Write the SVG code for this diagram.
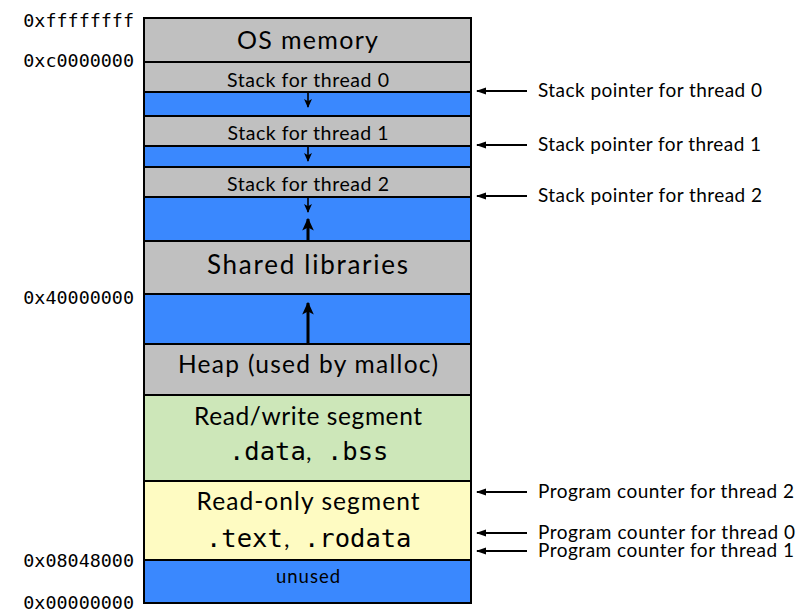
<svg xmlns="http://www.w3.org/2000/svg" width="803" height="613" viewBox="0 0 803 613">
<style>
.seg{stroke:#000;stroke-width:2}
.gray{fill:#c0c0c0}
.blue{fill:#3a88fe}
.green{fill:#cde7b9}
.yellow{fill:#fefbc2}
.t{font-family:Lato,"Open Sans","Liberation Sans",sans-serif;fill:#000;text-anchor:middle}
.s{font-family:Lato,"Open Sans","Liberation Sans",sans-serif;fill:#000}
.m{font-family:"DejaVu Sans Mono","Liberation Mono",monospace;font-size:25.5px;fill:#000}
.addr{font-family:"DejaVu Sans Mono","Liberation Mono",monospace;font-size:18.4px;text-anchor:end;fill:#000}
.lbl{font-family:Lato,"Open Sans","Liberation Sans",sans-serif;font-size:19px;fill:#000}
.ptr{stroke:#000;stroke-width:2;fill:none}
.grow{stroke:#000;fill:none}
</style>
<defs>
<marker id="ah" viewBox="0 0 10 10" refX="9" refY="5" markerWidth="5" markerHeight="5" markerUnits="strokeWidth" orient="auto">
<path d="M0,1.5 L10,5 L0,8.5 Z" fill="#000"/>
</marker>
<marker id="ahs" viewBox="0 0 10 10" refX="9" refY="5" markerWidth="5.5" markerHeight="5.5" markerUnits="strokeWidth" orient="auto">
<path d="M0,0.5 L10,5 L0,9.5 L2.5,5 Z" fill="#000"/>
</marker>
<marker id="ahb" viewBox="0 0 10 10" refX="9" refY="5" markerWidth="4.3" markerHeight="4.3" markerUnits="strokeWidth" orient="auto">
<path d="M0,0.5 L10,5 L0,9.5 L2.5,5 Z" fill="#000"/>
</marker>
</defs>

<g id="addresses">
<text class="addr" x="134" y="27">0xffffffff</text>
<text class="addr" x="134" y="67">0xc0000000</text>
<text class="addr" x="134" y="304">0x40000000</text>
<text class="addr" x="134" y="567">0x08048000</text>
<text class="addr" x="134" y="609">0x00000000</text>
</g>

<g id="os-memory"><rect class="seg gray" x="144" y="18" width="327" height="44"/><text class="t" x="307.5" y="49" font-size="25" textLength="141">OS memory</text></g>
<g id="stack0"><rect class="seg gray" x="144" y="62" width="327" height="30"/><text class="t" x="308" y="87" font-size="19.5" textLength="162">Stack for thread 0</text></g>
<g id="free0"><rect class="seg blue" x="144" y="92" width="327" height="24"/></g>
<g id="stack1"><rect class="seg gray" x="144" y="116" width="327" height="30"/><text class="t" x="308" y="140" font-size="19.5" textLength="161">Stack for thread 1</text></g>
<g id="free1"><rect class="seg blue" x="144" y="146" width="327" height="21"/></g>
<g id="stack2"><rect class="seg gray" x="144" y="167" width="327" height="30"/><text class="t" x="308" y="191" font-size="19.5" textLength="162">Stack for thread 2</text></g>
<g id="free2"><rect class="seg blue" x="144" y="197" width="327" height="44"/></g>
<g id="shared-libraries"><rect class="seg gray" x="144" y="241" width="327" height="53"/><text class="t" x="307.5" y="274" font-size="26" textLength="201">Shared libraries</text></g>
<g id="free3"><rect class="seg blue" x="144" y="294" width="327" height="50"/></g>
<g id="heap"><rect class="seg gray" x="144" y="344" width="327" height="51"/><text class="t" x="308" y="373" font-size="24.5" textLength="260">Heap (used by malloc)</text></g>
<g id="rw-segment"><rect class="seg green" x="144" y="395" width="327" height="86"/><text class="t" x="308" y="425" font-size="24.5" textLength="228">Read/write segment</text><text class="m" x="229" y="460">.data</text><text class="s" x="306" y="460" font-size="24">,</text><text class="m" x="327" y="460">.bss</text></g>
<g id="ro-segment"><rect class="seg yellow" x="144" y="481" width="327" height="79"/><text class="t" x="308" y="510" font-size="24.5" textLength="223">Read-only segment</text><text class="m" x="206" y="547">.text</text><text class="s" x="284" y="547" font-size="24">,</text><text class="m" x="304" y="547">.rodata</text></g>
<g id="unused"><rect class="seg blue" x="144" y="560" width="327" height="43"/><text class="t" x="308" y="583" font-size="18.5" textLength="64">unused</text></g>

<g id="connectors">
<line class="grow" stroke-width="1.6" x1="308" y1="93" x2="308" y2="107" marker-end="url(#ahs)"/>
<line class="grow" stroke-width="1.6" x1="308" y1="147" x2="308" y2="161" marker-end="url(#ahs)"/>
<line class="grow" stroke-width="1.6" x1="308" y1="198" x2="308" y2="212" marker-end="url(#ahs)"/>
<line class="grow" stroke-width="3" x1="308" y1="241" x2="308" y2="219" marker-end="url(#ahb)"/>
<line class="grow" stroke-width="3" x1="308" y1="344" x2="308" y2="303" marker-end="url(#ahb)"/>
<line class="ptr" x1="527" y1="91" x2="477" y2="91" marker-end="url(#ah)"/>
<line class="ptr" x1="527" y1="145" x2="477" y2="145" marker-end="url(#ah)"/>
<line class="ptr" x1="527" y1="196" x2="477" y2="196" marker-end="url(#ah)"/>
<line class="ptr" x1="527" y1="492" x2="477" y2="492" marker-end="url(#ah)"/>
<line class="ptr" x1="527" y1="533" x2="477" y2="533" marker-end="url(#ah)"/>
<line class="ptr" x1="527" y1="551" x2="477" y2="551" marker-end="url(#ah)"/>
</g>

<g id="labels">
<text class="lbl" x="538" y="97" textLength="224">Stack pointer for thread 0</text>
<text class="lbl" x="538" y="151" textLength="223">Stack pointer for thread 1</text>
<text class="lbl" x="538" y="202" textLength="224">Stack pointer for thread 2</text>
<text class="lbl" x="538" y="498" textLength="256">Program counter for thread 2</text>
<text class="lbl" x="538" y="539" textLength="257">Program counter for thread 0</text>
<text class="lbl" x="538" y="557" textLength="256">Program counter for thread 1</text>
</g>
</svg>
